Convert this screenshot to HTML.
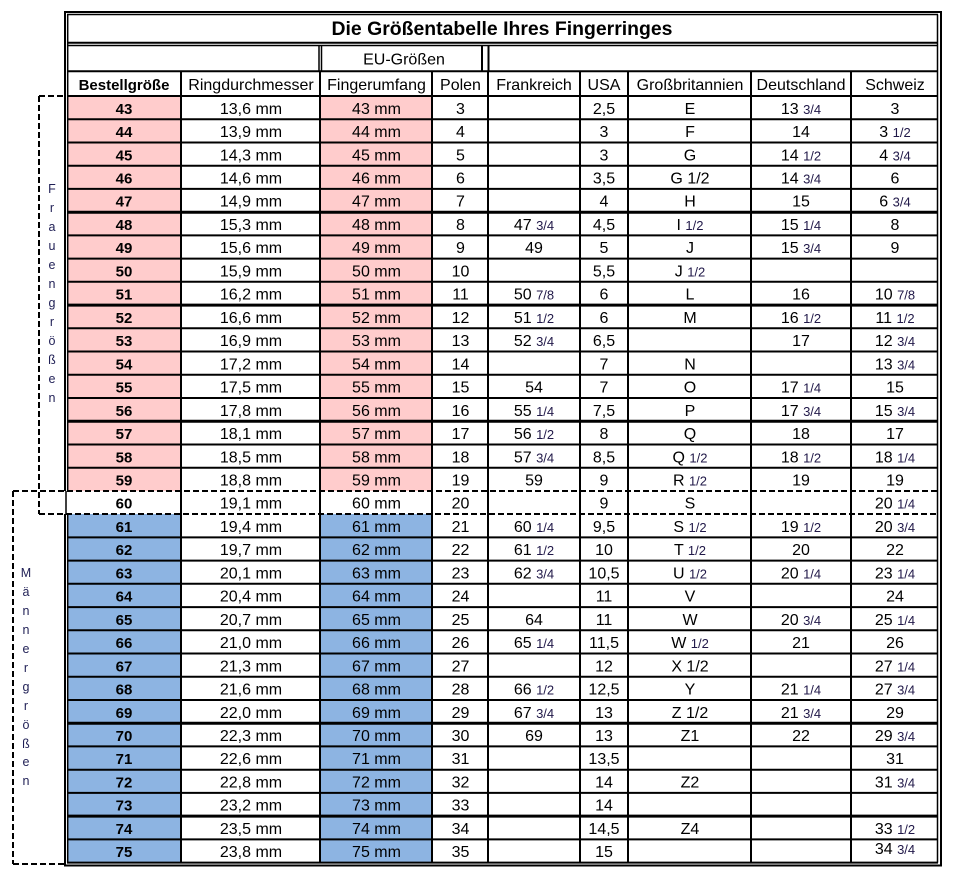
<!DOCTYPE html>
<html><head><meta charset="utf-8">
<style>
html,body{margin:0;padding:0;background:#fff;width:967px;height:883px;overflow:hidden}
svg{display:block}
text{font-family:"Liberation Sans",sans-serif;font-size:16px;text-anchor:middle;fill:#000}
.b{font-weight:bold;font-size:15px}
.f{font-size:13px;fill:#201848}
.l{font-size:12.5px;fill:#1f1f55}
.ti{font-weight:bold;font-size:19px}
</style></head><body>
<svg width="967" height="883" viewBox="0 0 967 883" xmlns="http://www.w3.org/2000/svg">
<!-- fills -->
<rect x="67" y="96" width="114" height="395" fill="#ffcccc"/>
<rect x="320" y="96" width="112" height="395" fill="#ffcccc"/>
<rect x="67" y="514" width="114" height="348.6" fill="#8db4e2"/>
<rect x="320" y="514" width="112" height="348.6" fill="#8db4e2"/>

<!-- borders -->
<g stroke="#000" fill="none">
<path d="M65 12V491M65 514V865.5M941 12V865.5M64 12H942M64 865.5H942" stroke-width="2"/>
<path d="M67.7 14.5V491M67.7 514V862.6M937.5 14.5V862.6M67 14.5H938" stroke-width="1.5"/>
<path d="M66 491V514" stroke-width="1.5"/>
<path d="M67 42.7H938" stroke-width="2"/>
<path d="M67 45.5H938" stroke-width="1.5"/>
<path d="M319 45V71M321.5 45V71" stroke-width="1.5"/>
<path d="M482 45V71M488.5 45V71" stroke-width="2"/>
<path d="M67 71.3H938" stroke-width="2"/>
<path d="M181 71V862.6M320 71V862.6M432 71V862.6M488 71V862.6M580 71V862.6M628 71V862.6M751 71V862.6M851 71V862.6" stroke-width="2"/>
<path d="M67 96H938M67 119.2H938M67 142.5H938M67 165.7H938M67 188.9H938M67 235.4H938M67 258.6H938M67 281.8H938M67 328.3H938M67 351.5H938M67 374.8H938M67 398H938M67 444.5H938M67 467.7H938M67 537.4H938M67 560.6H938M67 583.8H938M67 607.1H938M67 630.3H938M67 653.5H938M67 676.8H938M67 700H938M67 746.4H938M67 769.7H938M67 792.9H938M67 839.4H938M67 862.6H938" stroke-width="2"/>
<path d="M67 212.2H938M67 305.1H938M67 421.2H938M67 723.2H938M67 816.1H938" stroke-width="3"/>
<!-- dashed boxes -->
<path d="M39 96H66M39 96V514M39 514H937" stroke-width="2" stroke-dasharray="6 3"/>
<path d="M13 491H937M13 491V864M13 864H65" stroke-width="2" stroke-dasharray="6 3"/>
</g>

<!-- title & headers -->
<text class="ti" x="502" y="35" textLength="341" lengthAdjust="spacingAndGlyphs">Die Größentabelle Ihres Fingerringes</text>
<text x="404" y="64.5">EU-Größen</text>
<text class="b" x="124" y="90">Bestellgröße</text>
<text x="251" y="90">Ringdurchmesser</text>
<text x="376.5" y="90">Fingerumfang</text>
<text x="460.5" y="90">Polen</text>
<text x="534" y="90">Frankreich</text>
<text x="604" y="90">USA</text>
<text x="690" y="90">Großbritannien</text>
<text x="801" y="90">Deutschland</text>
<text x="895" y="90">Schweiz</text>

<!-- side labels -->
<g class="l">
<text class="l" x="52" y="193">F</text><text class="l" x="52" y="212">r</text><text class="l" x="52" y="231">a</text><text class="l" x="52" y="250">u</text><text class="l" x="52" y="269">e</text><text class="l" x="52" y="288">n</text><text class="l" x="52" y="307">g</text><text class="l" x="52" y="326">r</text><text class="l" x="52" y="345">ö</text><text class="l" x="52" y="364">ß</text><text class="l" x="52" y="383">e</text><text class="l" x="52" y="402">n</text>
<text class="l" x="26" y="577">M</text><text class="l" x="26" y="596">ä</text><text class="l" x="26" y="615">n</text><text class="l" x="26" y="634">n</text><text class="l" x="26" y="653">e</text><text class="l" x="26" y="672">r</text><text class="l" x="26" y="691">g</text><text class="l" x="26" y="710">r</text><text class="l" x="26" y="729">ö</text><text class="l" x="26" y="748">ß</text><text class="l" x="26" y="766">e</text><text class="l" x="26" y="785">n</text>
</g>

<!-- rows -->
<g transform="translate(0,113.8)"><text class="b" x="124">43</text><text x="251">13,6 mm</text><text x="376.5">43 mm</text><text x="460.5">3</text><text x="604">2,5</text><text x="690">E</text><text x="801">13 <tspan class="f">3/4</tspan></text><text x="895">3</text></g>
<g transform="translate(0,137)"><text class="b" x="124">44</text><text x="251">13,9 mm</text><text x="376.5">44 mm</text><text x="460.5">4</text><text x="604">3</text><text x="690">F</text><text x="801">14</text><text x="895">3 <tspan class="f">1/2</tspan></text></g>
<g transform="translate(0,160.3)"><text class="b" x="124">45</text><text x="251">14,3 mm</text><text x="376.5">45 mm</text><text x="460.5">5</text><text x="604">3</text><text x="690">G</text><text x="801">14 <tspan class="f">1/2</tspan></text><text x="895">4 <tspan class="f">3/4</tspan></text></g>
<g transform="translate(0,183.5)"><text class="b" x="124">46</text><text x="251">14,6 mm</text><text x="376.5">46 mm</text><text x="460.5">6</text><text x="604">3,5</text><text x="690">G 1/2</text><text x="801">14 <tspan class="f">3/4</tspan></text><text x="895">6</text></g>
<g transform="translate(0,206.7)"><text class="b" x="124">47</text><text x="251">14,9 mm</text><text x="376.5">47 mm</text><text x="460.5">7</text><text x="604">4</text><text x="690">H</text><text x="801">15</text><text x="895">6 <tspan class="f">3/4</tspan></text></g>
<g transform="translate(0,230)"><text class="b" x="124">48</text><text x="251">15,3 mm</text><text x="376.5">48 mm</text><text x="460.5">8</text><text x="534">47 <tspan class="f">3/4</tspan></text><text x="604">4,5</text><text x="690">I <tspan class="f">1/2</tspan></text><text x="801">15 <tspan class="f">1/4</tspan></text><text x="895">8</text></g>
<g transform="translate(0,253.2)"><text class="b" x="124">49</text><text x="251">15,6 mm</text><text x="376.5">49 mm</text><text x="460.5">9</text><text x="534">49</text><text x="604">5</text><text x="690">J</text><text x="801">15 <tspan class="f">3/4</tspan></text><text x="895">9</text></g>
<g transform="translate(0,276.4)"><text class="b" x="124">50</text><text x="251">15,9 mm</text><text x="376.5">50 mm</text><text x="460.5">10</text><text x="604">5,5</text><text x="690">J <tspan class="f">1/2</tspan></text></g>
<g transform="translate(0,299.6)"><text class="b" x="124">51</text><text x="251">16,2 mm</text><text x="376.5">51 mm</text><text x="460.5">11</text><text x="534">50 <tspan class="f">7/8</tspan></text><text x="604">6</text><text x="690">L</text><text x="801">16</text><text x="895">10 <tspan class="f">7/8</tspan></text></g>
<g transform="translate(0,322.9)"><text class="b" x="124">52</text><text x="251">16,6 mm</text><text x="376.5">52 mm</text><text x="460.5">12</text><text x="534">51 <tspan class="f">1/2</tspan></text><text x="604">6</text><text x="690">M</text><text x="801">16 <tspan class="f">1/2</tspan></text><text x="895">11 <tspan class="f">1/2</tspan></text></g>
<g transform="translate(0,346.1)"><text class="b" x="124">53</text><text x="251">16,9 mm</text><text x="376.5">53 mm</text><text x="460.5">13</text><text x="534">52 <tspan class="f">3/4</tspan></text><text x="604">6,5</text><text x="801">17</text><text x="895">12 <tspan class="f">3/4</tspan></text></g>
<g transform="translate(0,369.3)"><text class="b" x="124">54</text><text x="251">17,2 mm</text><text x="376.5">54 mm</text><text x="460.5">14</text><text x="604">7</text><text x="690">N</text><text x="895">13 <tspan class="f">3/4</tspan></text></g>
<g transform="translate(0,392.6)"><text class="b" x="124">55</text><text x="251">17,5 mm</text><text x="376.5">55 mm</text><text x="460.5">15</text><text x="534">54</text><text x="604">7</text><text x="690">O</text><text x="801">17 <tspan class="f">1/4</tspan></text><text x="895">15</text></g>
<g transform="translate(0,415.8)"><text class="b" x="124">56</text><text x="251">17,8 mm</text><text x="376.5">56 mm</text><text x="460.5">16</text><text x="534">55 <tspan class="f">1/4</tspan></text><text x="604">7,5</text><text x="690">P</text><text x="801">17 <tspan class="f">3/4</tspan></text><text x="895">15 <tspan class="f">3/4</tspan></text></g>
<g transform="translate(0,439)"><text class="b" x="124">57</text><text x="251">18,1 mm</text><text x="376.5">57 mm</text><text x="460.5">17</text><text x="534">56 <tspan class="f">1/2</tspan></text><text x="604">8</text><text x="690">Q</text><text x="801">18</text><text x="895">17</text></g>
<g transform="translate(0,462.3)"><text class="b" x="124">58</text><text x="251">18,5 mm</text><text x="376.5">58 mm</text><text x="460.5">18</text><text x="534">57 <tspan class="f">3/4</tspan></text><text x="604">8,5</text><text x="690">Q <tspan class="f">1/2</tspan></text><text x="801">18 <tspan class="f">1/2</tspan></text><text x="895">18 <tspan class="f">1/4</tspan></text></g>
<g transform="translate(0,485.5)"><text class="b" x="124">59</text><text x="251">18,8 mm</text><text x="376.5">59 mm</text><text x="460.5">19</text><text x="534">59</text><text x="604">9</text><text x="690">R <tspan class="f">1/2</tspan></text><text x="801">19</text><text x="895">19</text></g>
<g transform="translate(0,508.7)"><text class="b" x="124">60</text><text x="251">19,1 mm</text><text x="376.5">60 mm</text><text x="460.5">20</text><text x="604">9</text><text x="690">S</text><text x="895">20 <tspan class="f">1/4</tspan></text></g>
<g transform="translate(0,531.9)"><text class="b" x="124">61</text><text x="251">19,4 mm</text><text x="376.5">61 mm</text><text x="460.5">21</text><text x="534">60 <tspan class="f">1/4</tspan></text><text x="604">9,5</text><text x="690">S <tspan class="f">1/2</tspan></text><text x="801">19 <tspan class="f">1/2</tspan></text><text x="895">20 <tspan class="f">3/4</tspan></text></g>
<g transform="translate(0,555.2)"><text class="b" x="124">62</text><text x="251">19,7 mm</text><text x="376.5">62 mm</text><text x="460.5">22</text><text x="534">61 <tspan class="f">1/2</tspan></text><text x="604">10</text><text x="690">T <tspan class="f">1/2</tspan></text><text x="801">20</text><text x="895">22</text></g>
<g transform="translate(0,578.4)"><text class="b" x="124">63</text><text x="251">20,1 mm</text><text x="376.5">63 mm</text><text x="460.5">23</text><text x="534">62 <tspan class="f">3/4</tspan></text><text x="604">10,5</text><text x="690">U <tspan class="f">1/2</tspan></text><text x="801">20 <tspan class="f">1/4</tspan></text><text x="895">23 <tspan class="f">1/4</tspan></text></g>
<g transform="translate(0,601.6)"><text class="b" x="124">64</text><text x="251">20,4 mm</text><text x="376.5">64 mm</text><text x="460.5">24</text><text x="604">11</text><text x="690">V</text><text x="895">24</text></g>
<g transform="translate(0,624.9)"><text class="b" x="124">65</text><text x="251">20,7 mm</text><text x="376.5">65 mm</text><text x="460.5">25</text><text x="534">64</text><text x="604">11</text><text x="690">W</text><text x="801">20 <tspan class="f">3/4</tspan></text><text x="895">25 <tspan class="f">1/4</tspan></text></g>
<g transform="translate(0,648.1)"><text class="b" x="124">66</text><text x="251">21,0 mm</text><text x="376.5">66 mm</text><text x="460.5">26</text><text x="534">65 <tspan class="f">1/4</tspan></text><text x="604">11,5</text><text x="690">W <tspan class="f">1/2</tspan></text><text x="801">21</text><text x="895">26</text></g>
<g transform="translate(0,671.3)"><text class="b" x="124">67</text><text x="251">21,3 mm</text><text x="376.5">67 mm</text><text x="460.5">27</text><text x="604">12</text><text x="690">X 1/2</text><text x="895">27 <tspan class="f">1/4</tspan></text></g>
<g transform="translate(0,694.6)"><text class="b" x="124">68</text><text x="251">21,6 mm</text><text x="376.5">68 mm</text><text x="460.5">28</text><text x="534">66 <tspan class="f">1/2</tspan></text><text x="604">12,5</text><text x="690">Y</text><text x="801">21 <tspan class="f">1/4</tspan></text><text x="895">27 <tspan class="f">3/4</tspan></text></g>
<g transform="translate(0,717.8)"><text class="b" x="124">69</text><text x="251">22,0 mm</text><text x="376.5">69 mm</text><text x="460.5">29</text><text x="534">67 <tspan class="f">3/4</tspan></text><text x="604">13</text><text x="690">Z 1/2</text><text x="801">21 <tspan class="f">3/4</tspan></text><text x="895">29</text></g>
<g transform="translate(0,741)"><text class="b" x="124">70</text><text x="251">22,3 mm</text><text x="376.5">70 mm</text><text x="460.5">30</text><text x="534">69</text><text x="604">13</text><text x="690">Z1</text><text x="801">22</text><text x="895">29 <tspan class="f">3/4</tspan></text></g>
<g transform="translate(0,764.2)"><text class="b" x="124">71</text><text x="251">22,6 mm</text><text x="376.5">71 mm</text><text x="460.5">31</text><text x="604">13,5</text><text x="895">31</text></g>
<g transform="translate(0,787.5)"><text class="b" x="124">72</text><text x="251">22,8 mm</text><text x="376.5">72 mm</text><text x="460.5">32</text><text x="604">14</text><text x="690">Z2</text><text x="895">31 <tspan class="f">3/4</tspan></text></g>
<g transform="translate(0,810.7)"><text class="b" x="124">73</text><text x="251">23,2 mm</text><text x="376.5">73 mm</text><text x="460.5">33</text><text x="604">14</text></g>
<g transform="translate(0,833.9)"><text class="b" x="124">74</text><text x="251">23,5 mm</text><text x="376.5">74 mm</text><text x="460.5">34</text><text x="604">14,5</text><text x="690">Z4</text><text x="895">33 <tspan class="f">1/2</tspan></text></g>
<g transform="translate(0,857.2)"><text class="b" x="124">75</text><text x="251">23,8 mm</text><text x="376.5">75 mm</text><text x="460.5">35</text><text x="604">15</text><text x="895" y="-3">34 <tspan class="f">3/4</tspan></text></g>
</svg>
</body></html>
